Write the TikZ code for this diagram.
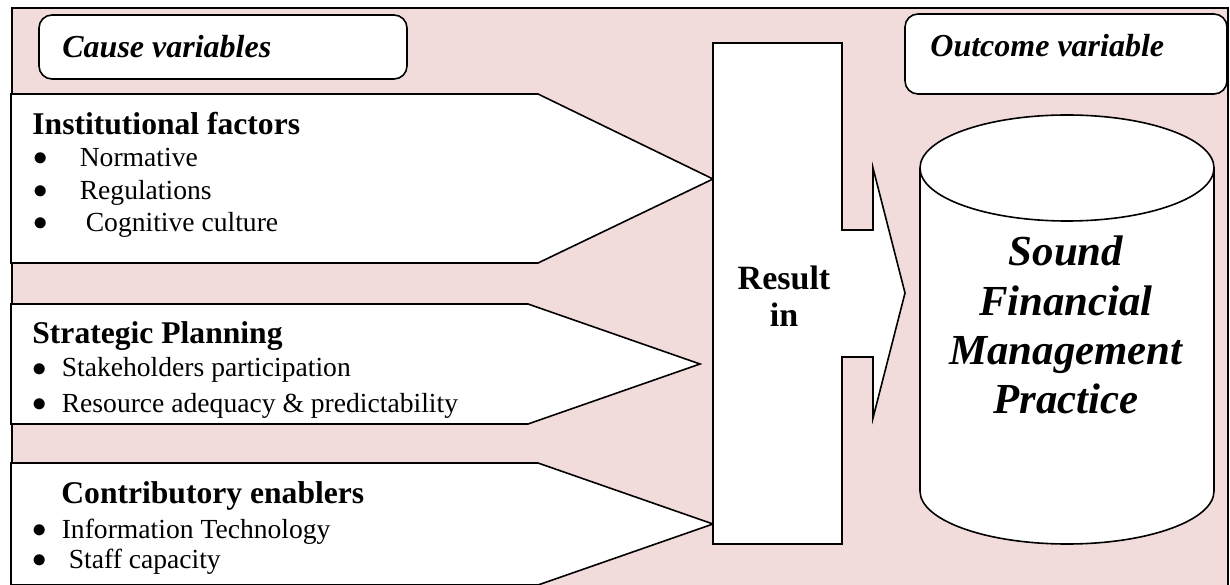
\documentclass[tikz,border=0pt]{standalone}
\usepackage{fontspec}
\setmainfont{Liberation Serif}[
  BoldFont={Liberation Serif Bold},
  ItalicFont={Liberation Serif Italic},
  BoldItalicFont={Liberation Serif Bold Italic}]

\definecolor{bgpink}{HTML}{F2DCDB}

\newcommand{\itemdot}{\raisebox{0.5pt}{$\bullet$}}

\tikzset{
  shapeline/.style={draw=black, line width=0.8pt, fill=white, line join=miter},
  headbox/.style={draw=black, line width=0.8pt, fill=white, rounded corners=6.5pt},
  headtext/.style={anchor=base west, inner sep=0pt, font=\fontsize{16}{19}\selectfont\bfseries\itshape},
  factortitle/.style={anchor=base west, inner sep=0pt, font=\fontsize{15.8}{19}\selectfont\bfseries},
  factoritem/.style={anchor=base west, inner sep=0pt, font=\fontsize{13.8}{16}\selectfont},
  resulttext/.style={anchor=base, inner sep=0pt, font=\fontsize{17}{20}\selectfont\bfseries},
  outcometext/.style={anchor=base, inner sep=0pt, font=\fontsize{21.4}{25}\selectfont\bfseries\itshape}
}

\begin{document}
\begin{tikzpicture}[x=0.5pt,y=0.5pt]
    \clip (0,0) rectangle (1230,584);
    % background panel
    \draw[fill=bgpink, line width=1pt] (12,-10) rectangle (1228,576);

    % headings
    \draw[headbox] (39,505) rectangle (407,569);
    \draw[headbox] (905,490) rectangle (1227,570);
    \node[headtext] (cause) at (62,526) {Cause variables};
    \node[headtext] (outcome) at (930,527) {Outcome variable};

    % factor arrows
    \draw[shapeline] (11,490) -- (538,490) -- (713,405) -- (538,321) -- (11,321) -- cycle;
    \draw[shapeline] (11,280) -- (528,280) -- (700,220) -- (528,160) -- (11,160) -- cycle;
    \draw[shapeline] (11,121) -- (538,121) -- (713,60) -- (538,-1) -- (11,-1) -- cycle;

    % result in
    \draw[shapeline] (713,541) -- (842,541) -- (842,354) -- (873,354) -- (873,416)
        -- (905,291) -- (873,166) -- (873,227) -- (842,227) -- (842,40) -- (713,40) -- cycle;

    % cylinder
    \draw[shapeline] (920,416) -- (920,93) arc[start angle=180, end angle=360, x radius=147, y radius=53] -- (1214,416);
    \draw[shapeline] (1067,416) ellipse [x radius=147, y radius=53];

    % institutional factors
    \node[factortitle] (inst) at (32,449) {Institutional factors};
    \node[factoritem] (norm) at (33,417) {\itemdot\hspace{16pt}Normative};
    \node[factoritem] (regul) at (33,384) {\itemdot\hspace{16pt}Regulations};
    \node[factoritem] (cogn) at (33,352) {\itemdot\hspace{19pt}Cognitive culture};

    % strategic planning
    \node[factortitle] (strat) at (32,241) {Strategic Planning};
    \node[factoritem] (stake) at (32,207) {\itemdot\hspace{7.5pt}Stakeholders participation};
    \node[factoritem] (resrc) at (32,172) {\itemdot\hspace{7.5pt}Resource adequacy \& predictability};

    % contributory enablers
    \node[factortitle] (contrib) at (61,81) {Contributory enablers};
    \node[factoritem] (infotech) at (32,46) {\itemdot\hspace{7.5pt}Information Technology};
    \node[factoritem] (staff) at (32,16) {\itemdot\hspace{11pt}Staff capacity};

    \node[resulttext] (result) at (784,294) {Result};
    \node[resulttext] (in) at (784,257) {in};

    \node[outcometext] (sound) at (1066,318) {Sound};
    \node[outcometext] (financial) at (1066,269) {Financial};
    \node[outcometext] (management) at (1066,220) {Management};
    \node[outcometext] (practice) at (1066,171) {Practice};
\end{tikzpicture}
\end{document}
